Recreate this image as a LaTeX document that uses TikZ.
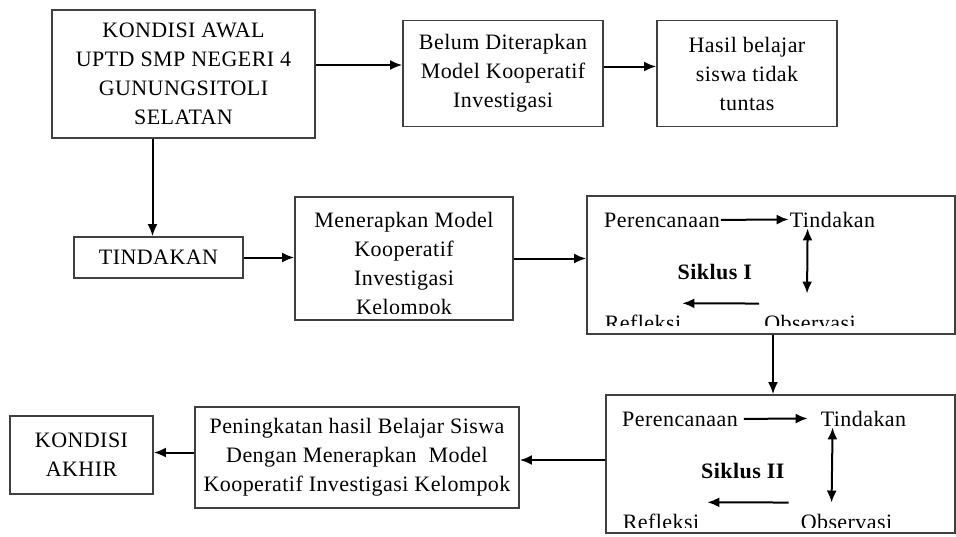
\documentclass[tikz,border=0pt]{standalone}
\usepackage{fontspec}
\setmainfont{Liberation Serif}[LetterSpace=2]
\usetikzlibrary{arrows.meta,positioning}

\begin{document}
\begin{tikzpicture}
    [x=1pt,y=-1pt,
     box/.style={rectangle,draw=black!75,line width=1.8pt},
     txt/.style={font=\fontsize{22}{29}\selectfont,align=center,inner sep=1pt},
     lbl/.style={font=\fontsize{22}{29}\selectfont,inner sep=1pt,anchor=base},
     arr/.style={-{Latex[length=12pt,width=10pt]},line width=2pt},
     dbl/.style={{Latex[length=12pt,width=10pt]}-{Latex[length=12pt,width=10pt]},line width=2pt}]
    \useasboundingbox (0,0) rectangle (956,536);

    % kondisi awal and the first row
    \node at (183.5,74) (awal) [box,txt,minimum width=263pt,minimum height=128pt]
      {KONDISI AWAL\\UPTD SMP NEGERI 4\\GUNUNGSITOLI\\SELATAN};
    \node at (503,73.5) (belum) [box,txt,minimum width=200pt,minimum height=106pt]
      {Belum Diterapkan\\Model Kooperatif\\Investigasi};
    \node at (747,73.5) (hasil) [box,txt,minimum width=180pt,minimum height=106pt]
      {Hasil belajar\\siswa tidak\\tuntas};

    \draw[arr] ([yshift=9pt]awal.east) -- ([yshift=9pt]awal.east -| belum.west);
    \draw[arr] ([yshift=7pt]belum.east) -- ([yshift=7pt]belum.east -| hasil.west);

    % tindakan row
    \node at (158.5,257.5) (tindakan) [box,txt,minimum width=169pt,minimum height=41pt] {TINDAKAN};
    \node at (404,258.5) (terapkan) [box,minimum width=218pt,minimum height=123pt] {};
    \begin{scope}
      \clip (295,197) rectangle (513,313);
      \node at (404,211) (terapkan text) [txt,anchor=north]
        {Menerapkan Model\\Kooperatif\\Investigasi\\Kelompok};
    \end{scope}

    \draw[arr] ([xshift=-6pt]tindakan.north |- awal.south) -- ([xshift=-6pt]tindakan.north);
    \draw[arr] (tindakan.east) -- (tindakan.east -| terapkan.west);

    % siklus I
    \node at (771,265) (siklus1) [box,minimum width=368pt,minimum height=138pt] {};
    \begin{scope}
      \clip (587,196) rectangle (955,325);
      \node at (662,227) (per1) [lbl] {Perencanaan};
      \node at (832.5,227) (tin1) [lbl] {Tindakan};
      \node at (715,279) (sik1) [lbl] {\textbf{Siklus I}};
      \node at (643,330) (ref1) [lbl] {Refleksi};
      \node at (810,330) (obs1) [lbl] {Observasi};
    \end{scope}
    \draw[arr] (per1.east) -- (tin1.west);
    \draw[dbl] ([xshift=19pt]tin1.south west) -- ([xshift=44pt,yshift=20pt]obs1.north west);
    \draw[arr] ([xshift=-4pt,yshift=10pt]obs1.north west) -- ([yshift=10pt]ref1.north east);

    \draw[arr] (terapkan.east) -- (terapkan.east -| siklus1.west);

    % siklus II
    \node at (780.5,464) (siklus2) [box,minimum width=349pt,minimum height=138pt] {};
    \begin{scope}
      \clip (606,395) rectangle (955,527);
      \node at (680,426) (per2) [lbl] {Perencanaan};
      \node at (863.5,426) (tin2) [lbl] {Tindakan};
      \node at (743,478) (sik2) [lbl] {\textbf{Siklus II}};
      \node at (661,529) (ref2) [lbl] {Refleksi};
      \node at (846.5,529) (obs2) [lbl] {Observasi};
    \end{scope}
    \draw[arr] ([xshift=5pt]per2.east) -- ([xshift=-12pt]tin2.west);
    \draw[dbl] ([xshift=13pt]tin2.south west) -- ([xshift=32pt,yshift=10pt]obs2.north west);
    \draw[arr] ([xshift=-11pt,yshift=10pt]obs2.north west) -- ([xshift=7pt,yshift=10pt]ref2.north east);

    \draw[arr] ([xshift=2pt]siklus1.south) -- ([xshift=2pt]siklus1.south |- siklus2.north);

    % kondisi akhir
    \node at (357,457.5) (naik) [box,txt,minimum width=324pt,minimum height=101pt]
      {Peningkatan hasil Belajar Siswa\\Dengan Menerapkan\ \ Model\\Kooperatif Investigasi Kelompok};
    \node at (81.5,455) (akhir) [box,txt,minimum width=143pt,minimum height=78pt]
      {KONDISI\\AKHIR};

    \draw[arr] ([yshift=4pt]siklus2.west) -- ([yshift=4pt]siklus2.west -| naik.east);
    \draw[arr] ([yshift=5pt]naik.west) -- ([yshift=5pt]naik.west -| akhir.east);
\end{tikzpicture}
\end{document}
